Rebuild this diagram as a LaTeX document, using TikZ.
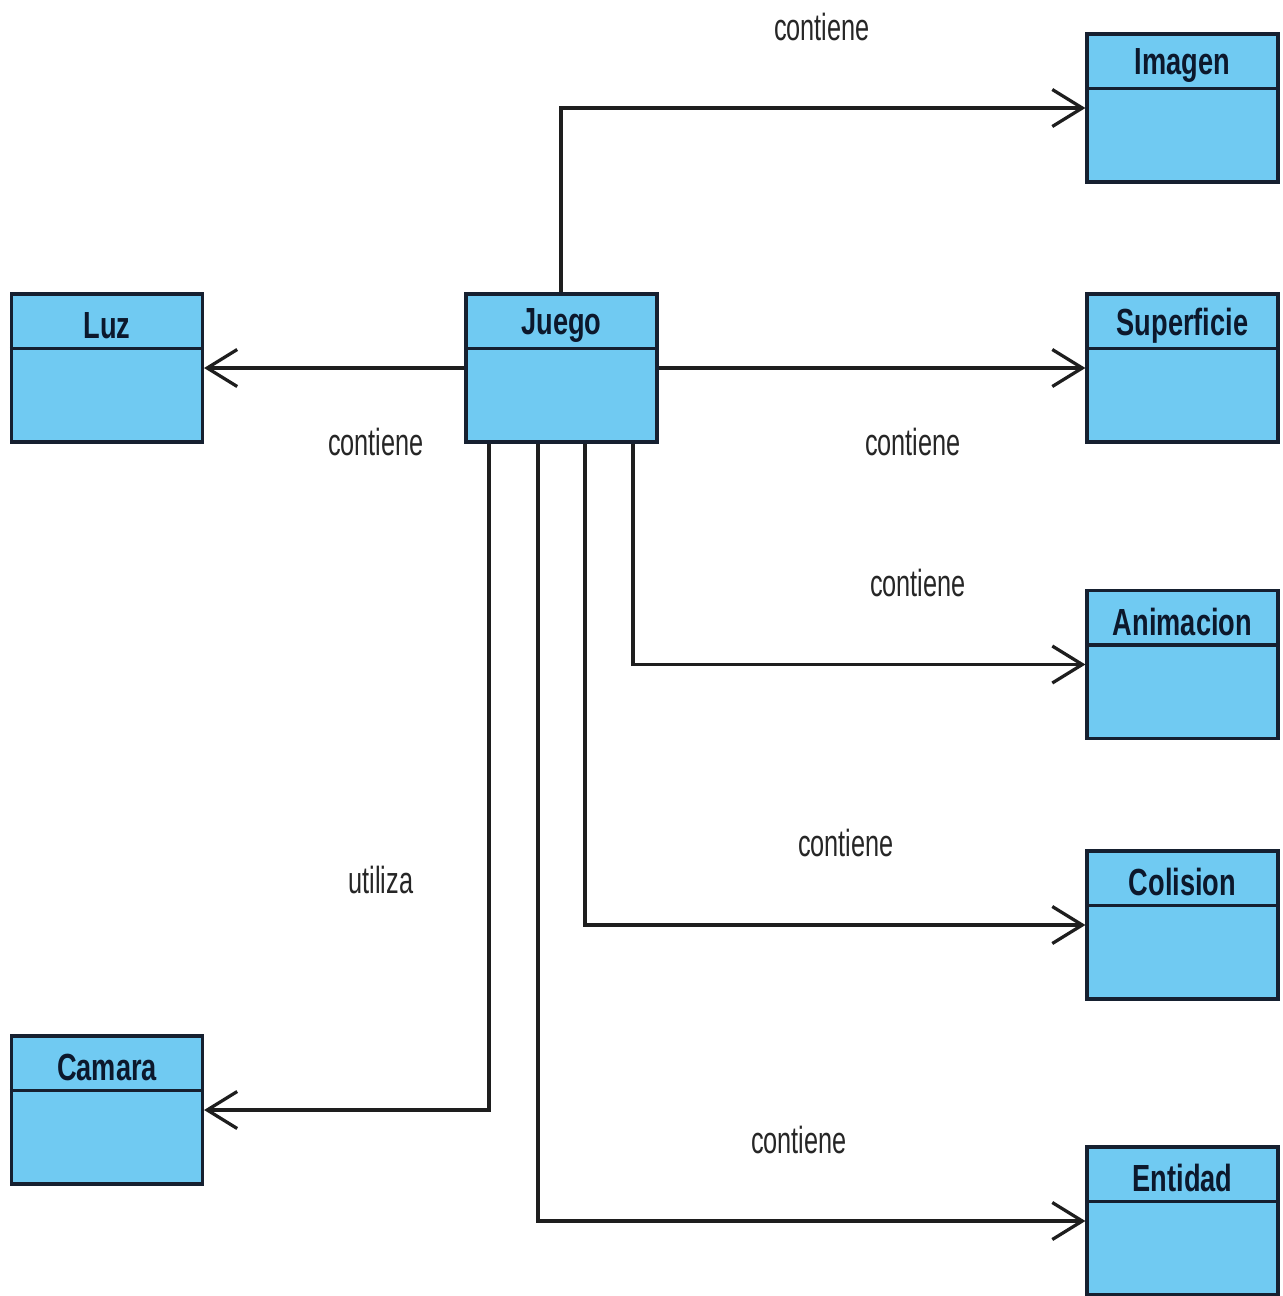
\documentclass[tikz,border=0pt]{standalone}
\usepackage{fontspec}
\usetikzlibrary{arrows.meta,calc}
\newfontfamily\lblfont{Liberation Sans}[FakeStretch=0.67]
\newfontfamily\ttlfont{Liberation Sans}[FakeStretch=0.72]
\definecolor{classfill}{RGB}{112,202,242}
\definecolor{classline}{RGB}{22,32,48}
\definecolor{titleink}{RGB}{12,24,44}
\definecolor{wireink}{RGB}{30,30,30}
\tikzset{
  umlbox/.style={draw=classline, fill=classfill, line width=0.065cm,
    rectangle, minimum width=3.82cm, minimum height=2.96cm, inner sep=0pt},
  ttl/.style={text=titleink, font=\ttlfont\bfseries\fontsize{21.5pt}{24pt}\selectfont, inner sep=0pt},
  lbl/.style={text=black!85, font=\lblfont\fontsize{21.5pt}{24pt}\selectfont, inner sep=0pt},
  assoc/.style={draw=wireink, line width=0.065cm,
    -{Straight Barb[length=0.6cm, width=0.74cm]}},
  divider/.style={draw=classline, line width=0.065cm}
}
\begin{document}
\begin{tikzpicture}[x=0.02cm, y=-0.02cm]
  \path[fill=white] (0,0) rectangle (1283,1296);
  \useasboundingbox (0,0) rectangle (1283,1296);

  % classes: name / title / centre
  \foreach \n/\t/\x/\y in {imagen/Imagen/1182.5/108, superficie/Superficie/1182.5/368,
      animacion/Animacion/1182.5/664.5, colision/Colision/1182.5/925,
      entidad/Entidad/1182.5/1221, luz/Luz/107/368, juego/Juego/561.5/368,
      camara/Camara/107/1110} {
    \node[umlbox] (\n) at (\x,\y) {};
    \draw[divider] ($(\n.north west)+(0,56)$) -- ($(\n.north east)+(0,56)$);
    \node[ttl] (\n-title) at ($(\n.north)+(0,33)$) {\t};
  }

  % associations
  \draw[assoc] ($(juego.north)+(-0.5,0)$) |- (imagen);
  \draw[assoc] (juego) -- (superficie);
  \draw[assoc] (juego) -- (luz);
  \draw[assoc] ($(juego.south)+(71.5,0)$) |- (animacion);
  \draw[assoc] ($(juego.south)+(23.5,0)$) |- (colision);
  \draw[assoc] ($(juego.south)+(-23.5,0)$) |- (entidad);
  \draw[assoc] ($(juego.south)+(-72.5,0)$) |- (camara);

  % association names
  \node[lbl] (l-imagen) at (822,27) {contiene};
  \node[lbl] (l-luz) at (376,442) {contiene};
  \node[lbl] (l-superficie) at (913,442) {contiene};
  \node[lbl] (l-animacion) at (918,583) {contiene};
  \node[lbl] (l-colision) at (846,843) {contiene};
  \node[lbl] (l-entidad) at (799,1140) {contiene};
  \node[lbl] (l-camara) at (381,880) {utiliza};
\end{tikzpicture}
\end{document}
